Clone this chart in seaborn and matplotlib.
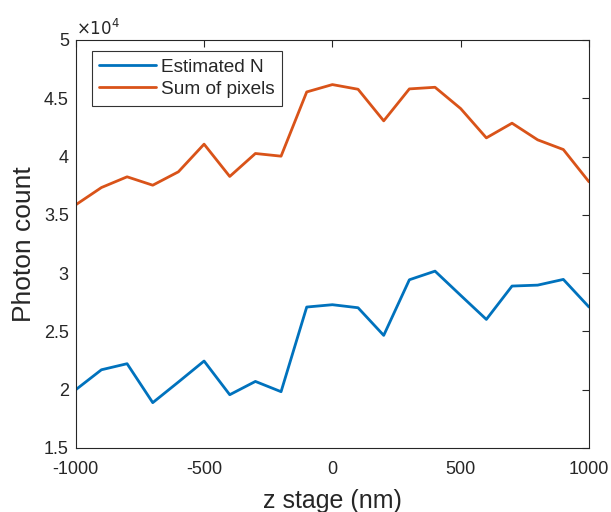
import numpy as np
import pandas as pd
import seaborn as sns
import matplotlib
matplotlib.use("Agg")
import matplotlib.pyplot as plt
from matplotlib.ticker import FuncFormatter, MultipleLocator

z_stage = [-1000, -900, -800, -700, -600, -500, -400, -300, -200, -100, 0,
           100, 200, 300, 400, 500, 600, 700, 800, 900, 1000]
estimated_n = [20000, 21710, 22230, 18890, 20660, 22460, 19570, 20710, 19830,
               27090, 27290, 27030, 24660, 29430, 30170, 28090, 26030, 28890,
               28970, 29460, 27090]
sum_of_pixels = [35860, 37340, 38260, 37540, 38690, 41060, 38290, 40260, 40030,
                 45540, 46170, 45770, 43060, 45800, 45940, 44110, 41600, 42860,
                 41430, 40600, 37830]

sns.set_theme(style="white")
plt.rcParams['font.family'] = ['Liberation Sans', 'DejaVu Sans']
plt.rcParams['axes.unicode_minus'] = False

df = pd.DataFrame({
    "z": z_stage * 2,
    "count": estimated_n + sum_of_pixels,
    "series": ["Estimated N"] * len(z_stage) + ["Sum of pixels"] * len(z_stage),
})

fig = plt.figure(figsize=(6.11, 5.12), dpi=100)
ax = fig.add_axes([0.124, 0.125, 0.84, 0.797])

sns.lineplot(data=df, x="z", y="count", hue="series",
             palette=["#0072BD", "#D95319"], linewidth=2.0, ax=ax)

ax.set_xlim(-1000, 1000)
ax.set_ylim(15000, 50000)
ax.xaxis.set_major_locator(MultipleLocator(500))
ax.yaxis.set_major_locator(MultipleLocator(5000))
ax.yaxis.set_major_formatter(FuncFormatter(lambda v, p: f"{v / 1e4:g}"))

grey = "#262626"
ax.tick_params(direction="in", length=5, width=0.8, top=True, right=True,
               labelsize=13, colors=grey)
ax.tick_params(axis="x", pad=9)
ax.tick_params(axis="y", pad=5)
for s in ax.spines.values():
    s.set_color(grey)
    s.set_linewidth(0.8)

ax.set_xlabel("z stage (nm)", fontsize=18, color=grey, labelpad=8)
ax.set_ylabel("Photon count", fontsize=19, color=grey, labelpad=6)
ax.text(0.0, 1.005, r"$\times10^4$", transform=ax.transAxes, fontsize=12,
        color=grey, ha="left", va="bottom")

leg = ax.legend(loc="upper left", bbox_to_anchor=(0.031, 0.973),
                fontsize=13.7, frameon=True, fancybox=False,
                edgecolor="black", handlelength=3.0, handletextpad=0.25,
                borderpad=0.4, labelspacing=0.25, borderaxespad=0)
leg.get_frame().set_linewidth(0.8)
for t in leg.get_texts():
    t.set_color(grey)

fig.savefig("out.png", dpi=100)
